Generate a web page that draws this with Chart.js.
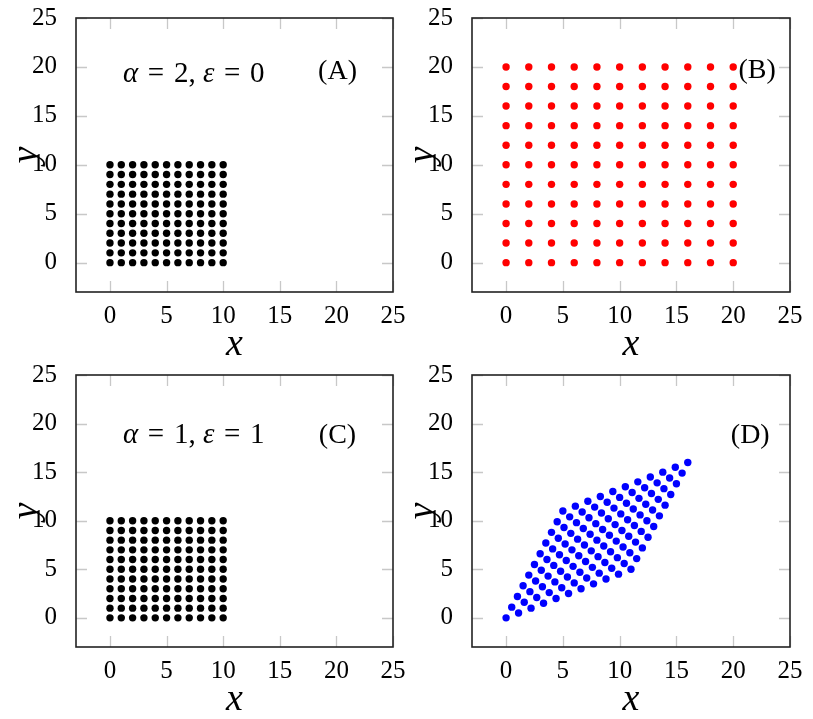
<!DOCTYPE html>
<html lang="en">
<head>
  <meta charset="UTF-8">
  <title>Grid deformation</title>
  <script src="https://cdn.jsdelivr.net/npm/chart.js"></script>
  <style>
    body { margin: 0; background: #fff; }
    #wrap { position: relative; width: 813px; height: 719px; }
    canvas { position: absolute; left: 0; top: 0; }
  </style>
</head>
<body>
  <div id="wrap">
    <canvas id="pA" width="813" height="719"></canvas>
    <canvas id="pB" width="813" height="719"></canvas>
    <canvas id="pC" width="813" height="719"></canvas>
    <canvas id="pD" width="813" height="719"></canvas>
  </div>

  <script>
    // axis ticks (same on every panel)
    const xTicks = [0, 5, 10, 15, 20, 25];
    const yTicks = [0, 5, 10, 15, 20, 25];

    // grid coordinates of the undeformed lattices
    const gridA = [0, 1, 2, 3, 4, 5, 6, 7, 8, 9, 10];
    const gridB = [0, 2, 4, 6, 8, 10, 12, 14, 16, 18, 20];
    const gridC = [0, 1, 2, 3, 4, 5, 6, 7, 8, 9, 10];

    // sheared lattice (D), one row per line of points
    const dX = [
      [0, 1.1, 2.2, 3.3, 4.4, 5.5, 6.6, 7.7, 8.8, 9.9, 11],
      [0.5, 1.6, 2.7, 3.8, 4.9, 6, 7.1, 8.2, 9.3, 10.4, 11.5],
      [1, 2.1, 3.2, 4.3, 5.4, 6.5, 7.6, 8.7, 9.8, 10.9, 12],
      [1.5, 2.6, 3.7, 4.8, 5.9, 7, 8.1, 9.2, 10.3, 11.4, 12.5],
      [2, 3.1, 4.2, 5.3, 6.4, 7.5, 8.6, 9.7, 10.8, 11.9, 13],
      [2.5, 3.6, 4.7, 5.8, 6.9, 8, 9.1, 10.2, 11.3, 12.4, 13.5],
      [3, 4.1, 5.2, 6.3, 7.4, 8.5, 9.6, 10.7, 11.8, 12.9, 14],
      [3.5, 4.6, 5.7, 6.8, 7.9, 9, 10.1, 11.2, 12.3, 13.4, 14.5],
      [4, 5.1, 6.2, 7.3, 8.4, 9.5, 10.6, 11.7, 12.8, 13.9, 15],
      [4.5, 5.6, 6.7, 7.8, 8.9, 10, 11.1, 12.2, 13.3, 14.4, 15.5],
      [5, 6.1, 7.2, 8.3, 9.4, 10.5, 11.6, 12.7, 13.8, 14.9, 16]
    ];
    const dY = [
      [0, 0.5, 1, 1.5, 2, 2.5, 3, 3.5, 4, 4.5, 5],
      [1.1, 1.6, 2.1, 2.6, 3.1, 3.6, 4.1, 4.6, 5.1, 5.6, 6.1],
      [2.2, 2.7, 3.2, 3.7, 4.2, 4.7, 5.2, 5.7, 6.2, 6.7, 7.2],
      [3.3, 3.8, 4.3, 4.8, 5.3, 5.8, 6.3, 6.8, 7.3, 7.8, 8.3],
      [4.4, 4.9, 5.4, 5.9, 6.4, 6.9, 7.4, 7.9, 8.4, 8.9, 9.4],
      [5.5, 6, 6.5, 7, 7.5, 8, 8.5, 9, 9.5, 10, 10.5],
      [6.6, 7.1, 7.6, 8.1, 8.6, 9.1, 9.6, 10.1, 10.6, 11.1, 11.6],
      [7.7, 8.2, 8.7, 9.2, 9.7, 10.2, 10.7, 11.2, 11.7, 12.2, 12.7],
      [8.8, 9.3, 9.8, 10.3, 10.8, 11.3, 11.8, 12.3, 12.8, 13.3, 13.8],
      [9.9, 10.4, 10.9, 11.4, 11.9, 12.4, 12.9, 13.4, 13.9, 14.4, 14.9],
      [11, 11.5, 12, 12.5, 13, 13.5, 14, 14.5, 15, 15.5, 16]
    ];

    const serif = "'Liberation Serif', 'DejaVu Serif', serif";

    function lattice(g) {
      const pts = [];
      g.forEach(yv => g.forEach(xv => pts.push({ x: xv, y: yv })));
      return pts;
    }
    function rows(xs, ys) {
      const pts = [];
      xs.forEach((r, i) => r.forEach((xv, j) => pts.push({ x: xv, y: ys[i][j] })));
      return pts;
    }

    // frame, inward ticks, axis titles and the labels in the plot
    const frame = {
      id: 'frame',
      afterDraw(chart) {
        const { ctx, chartArea: a, scales: { x, y } } = chart;
        ctx.save();
        ctx.strokeStyle = '#c8c8c8';
        ctx.lineWidth = 1.3;
        ctx.beginPath();
        xTicks.forEach(v => {
          const p = Math.round(x.getPixelForValue(v)) + 0.5;
          ctx.moveTo(p, a.bottom); ctx.lineTo(p, a.bottom - 11);
          ctx.moveTo(p, a.top); ctx.lineTo(p, a.top + 11);
        });
        yTicks.forEach(v => {
          const p = Math.round(y.getPixelForValue(v)) + 0.5;
          ctx.moveTo(a.left, p); ctx.lineTo(a.left + 11, p);
          ctx.moveTo(a.right, p); ctx.lineTo(a.right - 11, p);
        });
        ctx.stroke();

        ctx.strokeStyle = '#222';
        ctx.lineWidth = 1.6;
        ctx.strokeRect(a.left, a.top, a.right - a.left, a.bottom - a.top);

        ctx.fillStyle = '#000';
        ctx.textAlign = 'center';
        ctx.textBaseline = 'middle';
        ctx.font = 'italic 38px ' + serif;
        ctx.fillText('x', (a.left + a.right) / 2, a.bottom + 53);
        ctx.save();
        ctx.translate(a.left - 49, (a.top + a.bottom) / 2);
        ctx.rotate(-Math.PI / 2);
        ctx.fillText('y', 0, 0);
        ctx.restore();

        (chart.options.plugins.frame.notes || []).forEach(n => {
          const segs = n.segs;
          const fs = n.size || 28;
          let w = 0;
          segs.forEach(s => { ctx.font = (s.it ? 'italic ' : '') + fs + 'px ' + serif; w += ctx.measureText(s.t).width; });
          let px = x.getPixelForValue(n.x) - w / 2;
          const py = y.getPixelForValue(n.y);
          ctx.textAlign = 'left';
          segs.forEach(s => {
            ctx.font = (s.it ? 'italic ' : '') + fs + 'px ' + serif;
            ctx.fillText(s.t, px, py);
            px += ctx.measureText(s.t).width;
          });
        });
        ctx.restore();
      }
    };

    function panel(id, box, data, color, notes) {
      const [L, T, R, B] = box;
      new Chart(document.getElementById(id), {
        type: 'scatter',
        data: { datasets: [{ data: data, backgroundColor: color, borderWidth: 0, pointRadius: 3.7, pointHoverRadius: 3.7 }] },
        options: {
          responsive: false,
          animation: false,
          events: [],
          layout: { padding: { left: L - 70, top: T, right: 813 - R, bottom: 719 - B - 60 } },
          plugins: { legend: { display: false }, tooltip: { enabled: false }, frame: { notes: notes } },
          scales: {
            x: {
              type: 'linear', min: -3, max: 25,
              afterBuildTicks: s => { s.ticks = xTicks.map(v => ({ value: v })); },
              afterFit: s => { s.height = 60; s.paddingLeft = 0; s.paddingRight = 0; },
              grid: { display: false }, border: { display: false },
              ticks: { font: { family: serif, size: 25 }, color: '#000', padding: 1, maxRotation: 0, autoSkip: false }
            },
            y: {
              type: 'linear', min: -3, max: 25,
              afterBuildTicks: s => { s.ticks = yTicks.map(v => ({ value: v })); },
              afterFit: s => { s.width = 70; s.paddingTop = 0; s.paddingBottom = 0; },
              grid: { display: false }, border: { display: false },
              ticks: { font: { family: serif, size: 25 }, color: '#000', padding: 11, autoSkip: false }
            }
          }
        },
        plugins: [frame]
      });
    }

    const sp = '\u2004';
    panel('pA', [76, 18, 393, 292], lattice(gridA), '#000000', [
      { x: 7.4, y: 19.2, size: 29, segs: [{ t: 'α', it: true }, { t: sp + '=' + sp + '2, ' }, { t: 'ε', it: true }, { t: sp + '=' + sp + '0' }] },
      { x: 20.1, y: 19.5, segs: [{ t: '(A)' }] }
    ]);
    panel('pB', [472, 18, 790, 292], lattice(gridB), '#ff0000', [
      { x: 22.1, y: 19.6, segs: [{ t: '(B)' }] }
    ]);
    panel('pC', [76, 375, 393, 647], lattice(gridC), '#000000', [
      { x: 7.4, y: 18.8, size: 29, segs: [{ t: 'α', it: true }, { t: sp + '=' + sp + '1, ' }, { t: 'ε', it: true }, { t: sp + '=' + sp + '1' }] },
      { x: 20.1, y: 18.8, segs: [{ t: '(C)' }] }
    ]);
    panel('pD', [472, 375, 790, 647], rows(dX, dY), '#0000ff', [
      { x: 21.5, y: 18.8, segs: [{ t: '(D)' }] }
    ]);
  </script>
</body>
</html>
